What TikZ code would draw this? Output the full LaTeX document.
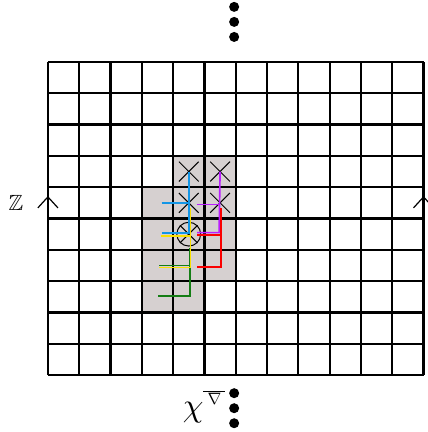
\documentclass[tikz,border=0pt]{standalone}
\usepackage{amsmath,amssymb}
\usepackage{graphicx}
\usepackage{xcolor}
\usepackage{tikz}
\usetikzlibrary{shapes.misc}
\definecolor{cellgray}{RGB}{214,208,208}
\definecolor{bondblue}{RGB}{20,150,230}
\definecolor{bondyellow}{RGB}{250,225,0}
\definecolor{bondgreen}{RGB}{20,125,20}
\definecolor{bondmagenta}{RGB}{185,30,255}
\definecolor{bondred}{RGB}{250,0,0}

\begin{document}
\begin{tikzpicture}[x=1cm, y=1cm, lattice/.style={line width=2pt}, xmark/.style={cross out, draw, line width=0.9pt, minimum size=0.6cm, inner sep=0pt}, omark/.style={circle, draw, line width=0.9pt, minimum size=0.76cm, inner sep=0pt}, bond/.style={line width=1.5pt}, vdot/.style={circle, fill, inner sep=0pt, minimum size=0.32cm}, wrap/.style={line width=1.1pt}]
\useasboundingbox (-1.53,-1.82) rectangle (12.13,11.98);
\fill[cellgray] (4,3) rectangle (6,7);
\fill[cellgray] (3,2) rectangle (5,6);
\draw[lattice] (0,0) grid (12,10);
% marked cells
\node[xmark] (xa) at (4.5,6.5) {};
\node[xmark] (xb) at (5.5,6.5) {};
\node[xmark] (xc) at (4.5,5.5) {};
\node[xmark] (xd) at (5.5,5.5) {};
\node[omark] (oc) at (4.5,4.5) {};
\draw[line width=0.9pt] (oc.north west) -- (oc.south east) (oc.north east) -- (oc.south west);
% coloured bonds
\draw[bond, bondblue] (3.63,5.5) -- (xc.center);
\draw[bond, bondblue] (xa.center) -- (4.5,4.53) -- (3.63,4.53);
\draw[bond, bondgreen] (4.53,4.05) -- (4.53,2.52) -- (3.52,2.52);
\draw[bond, bondgreen] (4.53,3.5) -- (3.55,3.5);
\draw[bond, bondyellow] (3.6,4.45) -- (4.56,4.45);
\draw[bond, bondyellow] (4.56,5.33) -- (4.56,3.44) -- (3.55,3.44);
\draw[bond, bondmagenta] (xb.center) -- (5.47,4.55) -- (4.77,4.55);
\draw[bond, bondmagenta] (4.77,5.45) -- (5.47,5.45);
\draw[bond, bondred] (5.54,5.33) -- (5.54,3.45) -- (4.77,3.45);
\draw[bond, bondred] (4.77,4.47) -- (5.54,4.47);
% periodic edges
\draw[wrap] (-0.32,5.34) -- (0,5.69) -- (0.32,5.34);
\draw[wrap] (11.68,5.34) -- (12,5.69) -- (12.32,5.34);
\node (zlabel) at (-1.02,5.5) {\scalebox{2}{$\mathbb{Z}$}};
% continuation dots
\node[vdot] (ta) at (5.95,11.76) {};
\node[vdot] (tb) at (5.95,11.28) {};
\node[vdot] (tc) at (5.95,10.80) {};
\node[vdot] (ba) at (5.95,-0.58) {};
\node[vdot] (bb) at (5.95,-1.06) {};
\node[vdot] (bc) at (5.95,-1.54) {};
\node (chilabel) at (5.0,-1.0) {$\mbox{\scalebox{3}{$\chi$}}^{\mbox{\scalebox{1.5}{$\overline{\hspace{2.5pt}\nabla\hspace{2.5pt}}$}}}$};
\end{tikzpicture}
\end{document}
